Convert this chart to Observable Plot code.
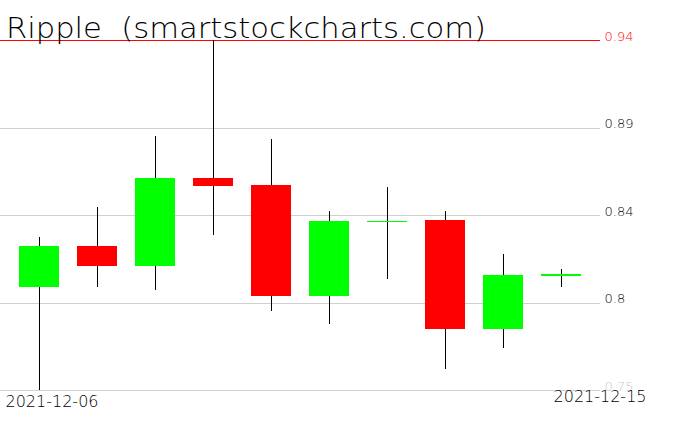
<!DOCTYPE html>
<html><head><meta charset="utf-8">
<script src="https://cdn.jsdelivr.net/npm/d3@7"></script>
<script src="https://cdn.jsdelivr.net/npm/@observablehq/plot@0.6"></script>
<style>html,body{margin:0;padding:0;background:#fff}#chart svg{display:block}</style>
</head><body><div id="chart"></div>
<script>
const title = "Ripple  (smartstockcharts.com)";
const dates = ["2021-12-06","2021-12-07","2021-12-08","2021-12-09","2021-12-10","2021-12-11","2021-12-12","2021-12-13","2021-12-14","2021-12-15"];
const open  = [0.8061, 0.8282, 0.8175, 0.8651, 0.8611, 0.8012, 0.8412, 0.8423, 0.7833, 0.8119];
const close = [0.8282, 0.8175, 0.8651, 0.8609, 0.8012, 0.8417, 0.8420, 0.7833, 0.8124, 0.8130];
const high  = [0.8331, 0.8493, 0.8879, 0.9400, 0.8863, 0.8472, 0.8602, 0.8472, 0.8238, 0.8157];
const low   = [0.7500, 0.8061, 0.8044, 0.8343, 0.7930, 0.7860, 0.8104, 0.7616, 0.7730, 0.8061];
const tickValues = [0.75, 0.7975, 0.845, 0.8925, 0.94];
const tickLabels = ["0.75", "0.8", "0.84", "0.89", "0.94"];

const data = dates.map((d, i) => ({date: d, open: open[i], close: close[i], high: high[i], low: low[i], up: close[i] >= open[i]}));
const yMin = d3.min(low), yMax = d3.max(high);

const svg = Plot.plot({
  width: 676, height: 431,
  marginTop: 40, marginBottom: 41, marginLeft: 0, marginRight: 76,
  x: {type: "band", domain: dates, range: [10, 590], padding: 0, axis: null},
  y: {domain: [yMin, yMax], axis: null},
  color: {type: "identity"},
  style: {background: "#fff", fontFamily: "DejaVu Sans"},
  marks: [
    Plot.ruleY(tickValues.filter(v => v !== yMax), {y: d => d, stroke: "#d0d0d0", shapeRendering: "crispEdges"}),
    Plot.ruleY([yMax], {y: d => d, stroke: "#ff0000", shapeRendering: "crispEdges"}),
    Plot.ruleX(data, {x: "date", y1: "high", y2: d => Math.max(d.open, d.close), stroke: "#000", shapeRendering: "crispEdges"}),
    Plot.ruleX(data, {x: "date", y1: d => Math.min(d.open, d.close), y2: "low", stroke: "#000", shapeRendering: "crispEdges"}),
    Plot.barY(data, {x: "date", y1: "open", y2: "close", fill: d => d.up ? "#00ff00" : "#ff0000", insetLeft: 9, insetRight: 9, shapeRendering: "crispEdges"}),
    Plot.text(tickValues, {y: d => d, text: (d, i) => tickLabels[i], frameAnchor: "right", textAnchor: "start", dx: 4, lineAnchor: "bottom",
      fill: d => d === yMax ? "#ff0000" : d === yMin ? "#c8c8c8" : "#000", fontSize: 13, fontWeight: 300, ariaLabel: "ylabels"}),
    Plot.text([dates[0]], {text: d => d, frameAnchor: "bottom-left", textAnchor: "start", lineAnchor: "top", dx: 5, dy: 5, fill: "#000", fontSize: 16, fontWeight: 300, ariaLabel: "dates"}),
    Plot.text([dates[dates.length - 1]], {text: d => d, frameAnchor: "bottom-right", textAnchor: "end", lineAnchor: "top", dx: 46, dy: 0, fill: "#000", fontSize: 16, fontWeight: 300, ariaLabel: "dates"})
  ]
});

const s = d3.select(svg);
s.selectAll('g[aria-label="dates"] text').attr("textLength", 103).attr("lengthAdjust", "spacingAndGlyphs");
s.selectAll('g[aria-label="ylabels"] text').attr("letter-spacing", "1px");
s.append("text")
  .attr("x", 6).attr("y", 38)
  .attr("text-anchor", "start")
  .attr("font-family", "DejaVu Sans").attr("font-weight", 200).attr("font-size", 28)
  .attr("fill", "#000")
  .attr("textLength", 480).attr("lengthAdjust", "spacingAndGlyphs")
  .style("white-space", "pre")
  .text(title);
document.getElementById("chart").appendChild(svg);
</script></body></html>
